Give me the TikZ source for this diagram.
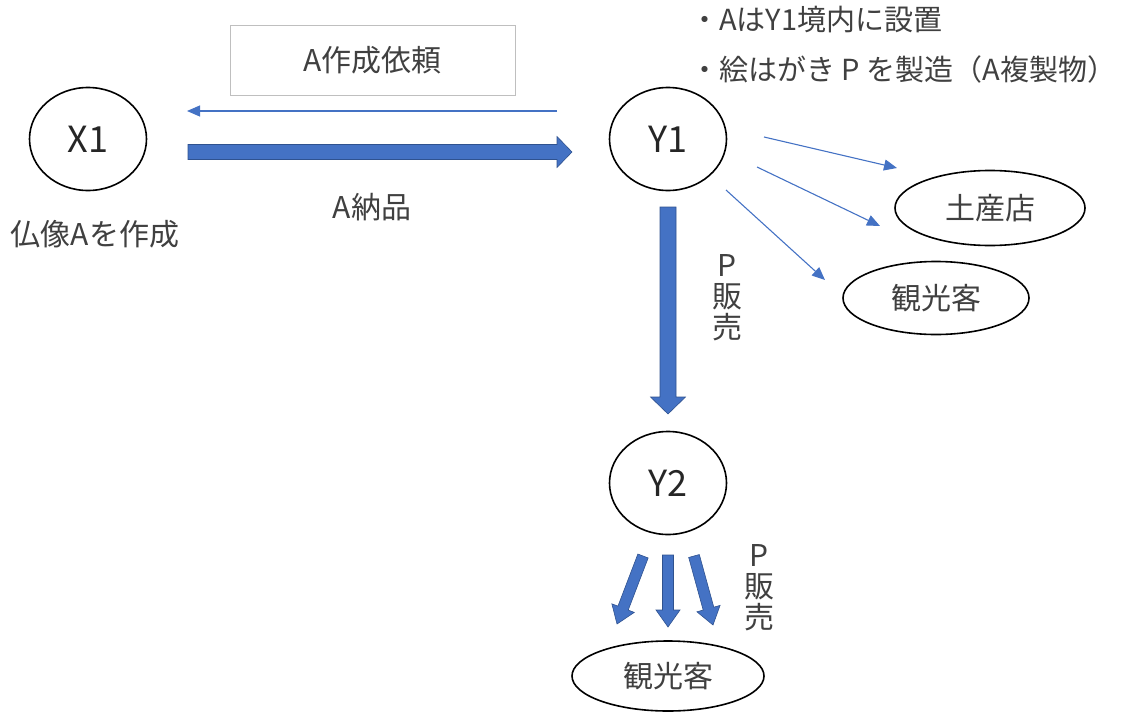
\documentclass[tikz,border=0pt]{standalone}
\usepackage{fontspec}
\setmainfont{Noto Sans CJK JP}
\usetikzlibrary{shapes.geometric,arrows.meta,calc}
\definecolor{blu}{HTML}{4472C4}
\definecolor{blud}{HTML}{2F528F}
\definecolor{txt}{HTML}{404040}
\definecolor{boxg}{HTML}{BFBFBF}
\tikzset{
  ent/.style={ellipse, draw=black, line width=1.6pt, inner sep=0pt, text=black!85,
    font=\fontsize{36}{40}\selectfont},
  lbl/.style={text=txt, inner sep=0pt},
  notelbl/.style={text=txt, inner sep=0pt, anchor=west, font=\fontsize{29}{31}\selectfont},
  thinarr/.style={draw=blu, line width=1.1pt, -{Triangle[length=13pt,width=11pt]}},
  barrow/.style={fill=blu, draw=blud, line width=0.6pt, line join=miter},
}
% block arrow: start, end, shaft half width, head half width, head length
\newcommand\blockarr[5]{%
  \filldraw[barrow] let \p1=($(#2)-(#1)$), \n1={atan2(\y1,\x1)}, \n2={veclen(\x1,\y1)} in
    [shift={(#1)}, rotate=\n1]
    (0pt,-#3) -- ({\n2*1pt-#5},-#3) -- ({\n2*1pt-#5},-#4) -- ({\n2*1pt},0pt)
    -- ({\n2*1pt-#5},#4) -- ({\n2*1pt-#5},#3) -- (0pt,#3) -- cycle;}
\begin{document}
\begin{tikzpicture}[x=1pt,y=-1pt,font=\fontsize{30}{31}\selectfont]
\useasboundingbox (0,0) rectangle (1124,712);
% entities
\node[ent, minimum width=117pt, minimum height=103pt] (X1) at (88,139) {X1};
\node[ent, minimum width=117pt, minimum height=103pt] (Y1) at (668,139) {Y1};
\node[ent, minimum width=117pt, minimum height=103pt] (Y2) at (668,483) {Y2};
\node[ent, minimum width=190pt, minimum height=75pt, font=\fontsize{30}{31}\selectfont, text=txt] (shop) at (990,208) {土産店};
\node[ent, minimum width=186pt, minimum height=73pt, font=\fontsize{30}{31}\selectfont, text=txt] (tour1) at (936,298) {観光客};
\node[ent, minimum width=192pt, minimum height=70pt, font=\fontsize{30}{31}\selectfont, text=txt] (tour2) at (668,676) {観光客};
% request box
\node[draw=boxg, line width=0.8pt, minimum width=285pt, minimum height=70pt, text=txt] (req) at (372.5,60) {A作成依頼};
% labels
\node[lbl] (deliv) at (372,207) {A納品};
\node[lbl] (make) at (95,234) {仏像Aを作成};
\node[notelbl] (note1) at (690,20) {・AはY1境内に設置};
\node[notelbl] (note2) at (690,69) {・絵はがき P を製造（A複製物）};
\node[lbl, align=center, font=\fontsize{30}{31}\selectfont] (sale1) at (727,298) {P\\販\\売};
\node[lbl, align=center, font=\fontsize{30}{31}\selectfont] (sale2) at (759,588) {P\\販\\売};
% connector end points
\coordinate (r1) at (557,111); \coordinate (r2) at (187,111);
\coordinate (t1s) at (764,137); \coordinate (t1e) at (897,168);
\coordinate (t2s) at (757,167); \coordinate (t2e) at (880,226);
\coordinate (t3s) at (726,190); \coordinate (t3e) at (825,280);
\coordinate (a1s) at (188,152); \coordinate (a1e) at (572,152);
\coordinate (a2s) at (668,207); \coordinate (a2e) at (668,414);
\coordinate (b1s) at (643,556); \coordinate (b1e) at (617,624);
\coordinate (b2s) at (668,555); \coordinate (b2e) at (668,627);
\coordinate (b3s) at (694,556); \coordinate (b3e) at (713,625);
% thin arrows
\draw[thinarr] (r1) -- (r2);
\draw[thinarr] (t1s) -- (t1e);
\draw[thinarr] (t2s) -- (t2e);
\draw[thinarr] (t3s) -- (t3e);
% block arrows
\blockarr{a1s}{a1e}{7.5pt}{15.5pt}{15pt}
\blockarr{a2s}{a2e}{8pt}{17.5pt}{17pt}
\blockarr{b1s}{b1e}{5.5pt}{12pt}{17pt}
\blockarr{b2s}{b2e}{5.5pt}{12pt}{17pt}
\blockarr{b3s}{b3e}{5.5pt}{12pt}{17pt}
\end{tikzpicture}
\end{document}
